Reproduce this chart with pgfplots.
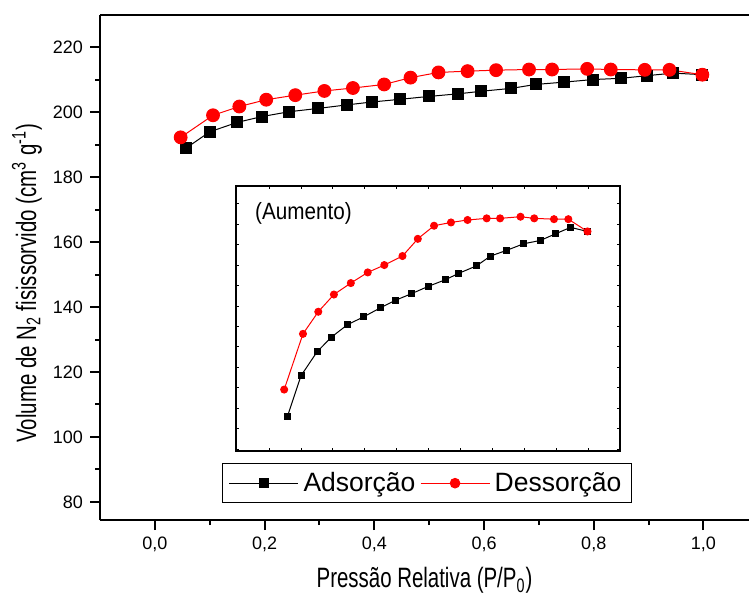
\documentclass[border=0pt]{standalone}
\usepackage{fontspec}
\setmainfont{Liberation Sans}
\newfontfamily\narrowfont{Liberation Sans}[FakeStretch=0.73]
\newfontfamily\midfont{Liberation Sans}[FakeStretch=0.88]
\usepackage{pgfplots}
\usepackage{pgfplotstable}
\pgfplotsset{compat=1.18}

\pgfplotstableread{
x y
0.057 189.0
0.100 194.0
0.150 196.9
0.195 198.7
0.245 200.2
0.297 201.2
0.350 202.3
0.396 203.2
0.446 204.0
0.499 204.9
0.552 205.7
0.595 206.5
0.650 207.4
0.694 208.6
0.745 209.3
0.798 210.1
0.850 210.5
0.897 211.3
0.945 212.1
0.998 211.6
}\ads

\pgfplotstableread{
x y
0.047 192.3
0.106 199.1
0.154 201.8
0.203 203.9
0.256 205.3
0.309 206.6
0.361 207.5
0.418 208.6
0.466 210.7
0.517 212.3
0.570 212.7
0.622 213.0
0.682 213.2
0.724 213.2
0.788 213.4
0.831 213.2
0.893 213.1
0.938 213.1
0.998 211.6
}\des

\begin{document}
\begin{tikzpicture}
\begin{axis}[
  at={(50pt,37.5pt)}, anchor=south west,
  scale only axis, width=324.5pt, height=252.5pt,
  xmin=-0.1, xmax=1.083, ymin=74.4, ymax=230,
  axis x line*=bottom, axis y line*=left,
  axis line style={line width=1pt, -},
  xtick={0,0.2,0.4,0.6,0.8,1}, minor x tick num=1,
  ytick={80,100,120,140,160,180,200,220}, minor y tick num=1,
  tick align=outside, major tick length=5pt, minor tick length=2.5pt,
  every tick/.style={black, line width=1pt},
  tick label style={font=\fontsize{9}{10}\selectfont},
  /pgf/number format/assume math mode=true,
  xticklabel style={/pgf/number format/.cd, fixed, fixed zerofill, precision=1, use comma},
  yticklabel style={/pgf/number format/.cd, fixed, precision=0},
  xlabel={Pressão Relativa (P/P\textsubscript{0})},
  ylabel={Volume de N\textsubscript{2} fisissorvido (cm\textsuperscript{3} g\textsuperscript{-1})},
  label style={font=\narrowfont\fontsize{14}{16}\selectfont},
  xlabel style={at={(axis description cs:0.5,-0.1346)}, anchor=base},
  ylabel style={at={(axis description cs:-0.0986,0.469)}, anchor=base, rotate=0},
  legend style={at={(0.1886,0.0329)}, anchor=south west, draw=black, line width=0.5pt,
    font=\fontsize{13.25}{14}\selectfont, legend columns=2,
    nodes={inner sep=2.3pt}, /tikz/every even column/.style={column sep=0pt}},
  legend cell align=left,
  legend image code/.code={\draw[mark repeat=2, mark phase=2, #1, mark size=2.4pt] plot coordinates {(0pt,0pt) (17.25pt,0pt) (34.5pt,0pt)};},
]
\addplot[black, line width=0.5pt, mark=square*, mark size=2.75pt, mark options={solid, fill=black}] table[x=x,y=y] {\ads};
\addlegendentry{Adsorção}
\addplot[red, line width=0.5pt, mark=*, mark size=3.2pt, mark options={solid, fill=red}] table[x=x,y=y] {\des};
\addlegendentry{Dessorção}
\draw[line width=1pt] (rel axis cs:0,1) -- (rel axis cs:1,1);
\end{axis}

\begin{axis}[
  at={(118pt,72pt)}, anchor=south west,
  scale only axis, width=192pt, height=132.5pt,
  xmin=-0.104, xmax=1.1, ymin=184.8, ymax=217.15,
  xtick={0,0.1,0.2,0.3,0.4,0.5,0.6,0.7,0.8,0.9,1.0,1.1},
  ytick={185,187.5,190,192.5,195,197.5,200,202.5,205,207.5,210,212.5,215},
  xticklabels={}, yticklabels={},
  tick align=inside, major tick length=1.6pt,
  axis line style={line width=0.7pt},
  every tick/.style={black, line width=0.5pt},
  axis background/.style={fill=white},
]
\addplot[black, line width=0.5pt, mark=square*, mark size=1.5pt, mark options={solid, fill=black}] table[x=x,y=y] {\ads};
\addplot[red, line width=0.5pt, mark=*, mark size=1.75pt, mark options={solid, fill=red}] table[x=x,y=y] {\des};
\node[anchor=base west, font=\midfont\fontsize{11.75}{13}\selectfont, inner sep=0pt] at (rel axis cs:0.049,0.872) {(Aumento)};
\end{axis}
\pgfresetboundingbox
\path[use as bounding box] (0,0) rectangle (374.5pt,297.5pt);
\end{tikzpicture}
\end{document}
